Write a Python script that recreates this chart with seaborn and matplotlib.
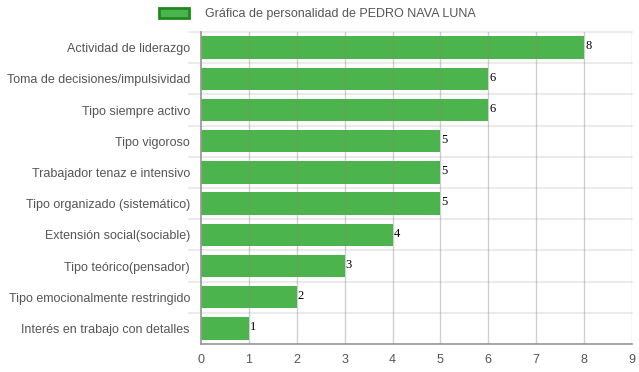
import matplotlib
matplotlib.use("Agg")
import matplotlib.pyplot as plt
import seaborn as sns
import pandas as pd
from matplotlib.patches import Patch

categories = ["Actividad de liderazgo", "Toma de decisiones/impulsividad", "Tipo siempre activo",
              "Tipo vigoroso", "Trabajador tenaz e intensivo", "Tipo organizado (sistemático)",
              "Extensión social(sociable)", "Tipo teórico(pensador)", "Tipo emocionalmente restringido",
              "Interés en trabajo con detalles"]
values = [8, 6, 6, 5, 5, 5, 4, 3, 2, 1]
series_name = "Gráfica de personalidad de PEDRO NAVA LUNA"

sns.set_theme(style="white")
plt.rcParams['font.family'] = ['Liberation Sans', 'DejaVu Sans']

df = pd.DataFrame({"cat": categories, "val": values})
fig = plt.figure(figsize=(6.39, 3.72), dpi=100)
ax = fig.add_axes([201/639, 1-344/372, (632-201)/639, (344-32)/372])

sns.barplot(data=df, x="val", y="cat", orient="h", color="#4cb44c", saturation=1,
            width=0.72, ax=ax, zorder=2)
for p in ax.patches:
    p.set_edgecolor("none")

ax.set_xlim(0, 9)
ax.set_ylim(len(categories) - 0.5, -0.5)
ax.set_xticks(range(10))
ax.set_xlabel("")
ax.set_ylabel("")
ax.tick_params(axis="x", length=4, color="#bbbbbb", labelsize=9, labelcolor="#555555", pad=3)
ax.tick_params(axis="y", length=0, labelsize=9, labelcolor="#555555", pad=8)

for x in range(1, 10):
    ax.axvline(x, color="#888888", lw=1, alpha=0.4, zorder=3)
for i in range(len(categories)):
    ax.plot([-0.25, 9], [i - 0.5, i - 0.5], color="#ebebeb", lw=1.5, zorder=1, clip_on=False)

for s in ["top", "right"]:
    ax.spines[s].set_visible(False)
ax.spines["left"].set_color("#999999")
ax.spines["bottom"].set_color("#999999")

for i, v in enumerate(values):
    ax.text(v + 0.02, i - 0.04, str(v), family="Liberation Serif", fontsize=9, color="black",
            va="center", ha="left", zorder=4)

handle = Patch(facecolor="#4cb44c", edgecolor="#1e8a1e", linewidth=2)
fig.legend([handle], [series_name], loc="center", bbox_to_anchor=(0.497, 1-14/372),
           frameon=False, fontsize=9, labelcolor="#555555", handlelength=2.4, handleheight=0.85,
           handletextpad=1.3)

fig.savefig("out.png", dpi=100)
